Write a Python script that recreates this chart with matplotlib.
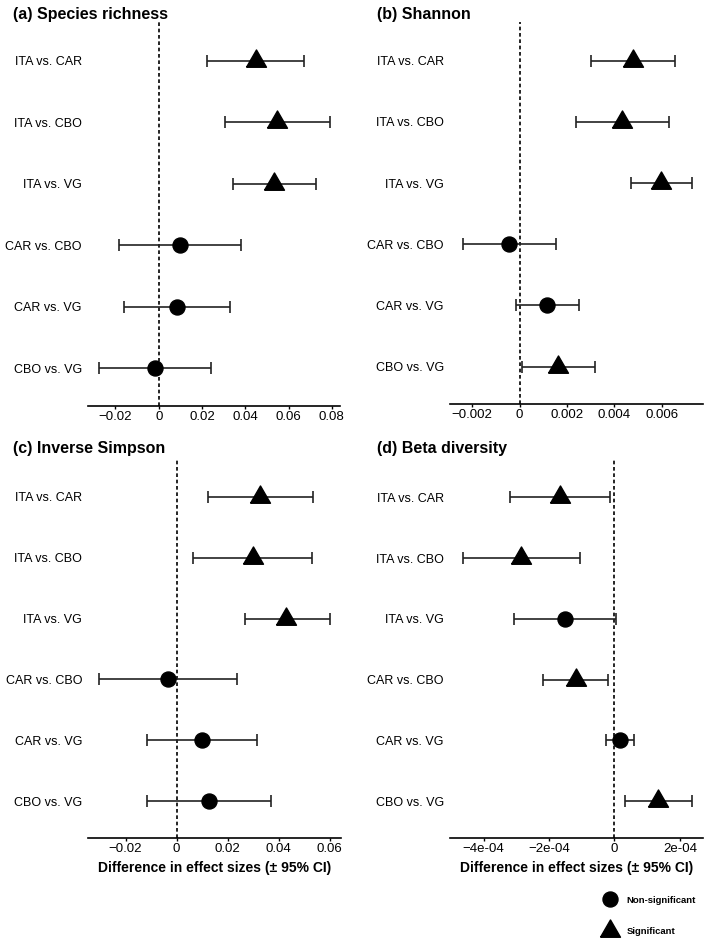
import matplotlib
matplotlib.use("Agg")
import matplotlib.pyplot as plt
from matplotlib.lines import Line2D

plt.rcParams["font.family"] = ["Liberation Sans", "DejaVu Sans"]

comparisons = ["ITA vs. CAR", "ITA vs. CBO", "ITA vs. VG",
               "CAR vs. CBO", "CAR vs. VG", "CBO vs. VG"]

richness_est = [0.0450, 0.0548, 0.0534, 0.0098, 0.0083, -0.0018]
richness_lo = [0.0224, 0.0306, 0.0342, -0.0183, -0.0159, -0.0274]
richness_hi = [0.0673, 0.0792, 0.0727, 0.0380, 0.0328, 0.0242]
richness_sig = [True, True, True, False, False, False]

shannon_est = [0.00477, 0.00434, 0.00597, -0.00046, 0.00117, 0.00163]
shannon_lo = [0.00300, 0.00239, 0.00470, -0.00239, -0.00015, 0.00008]
shannon_hi = [0.00658, 0.00631, 0.00728, 0.00153, 0.00252, 0.00318]
shannon_sig = [True, True, True, False, False, True]

invsimpson_est = [0.0329, 0.0299, 0.0430, -0.0035, 0.0098, 0.0128]
invsimpson_lo = [0.0123, 0.0065, 0.0267, -0.0305, -0.0116, -0.0114]
invsimpson_hi = [0.0536, 0.0533, 0.0600, 0.0238, 0.0314, 0.0371]
invsimpson_sig = [True, True, True, False, False, False]

beta_est = [-1.66e-4, -2.86e-4, -1.51e-4, -1.18e-4, 1.7e-5, 1.33e-4]
beta_lo = [-3.20e-4, -4.64e-4, -3.06e-4, -2.19e-4, -2.6e-5, 3.3e-5]
beta_hi = [-1.3e-5, -1.05e-4, 5e-6, -2.0e-5, 6.0e-5, 2.38e-4]
beta_sig = [True, True, False, True, False, True]

richness_ticks = [-0.02, 0, 0.02, 0.04, 0.06, 0.08]
richness_ticklabels = ["\u22120.02", "0", "0.02", "0.04", "0.06", "0.08"]
shannon_ticks = [-0.002, 0, 0.002, 0.004, 0.006]
shannon_ticklabels = ["\u22120.002", "0", "0.002", "0.004", "0.006"]
invsimpson_ticks = [-0.02, 0, 0.02, 0.04, 0.06]
invsimpson_ticklabels = ["\u22120.02", "0", "0.02", "0.04", "0.06"]
beta_ticks = [-4e-4, -2e-4, 0, 2e-4]
beta_ticklabels = ["\u22124e-04", "\u22122e-04", "0", "2e-04"]

# equilateral triangle centred on its centroid
TRI = [(-1, -0.577), (1, -0.577), (0, 1.155), (-1, -0.577)]


def draw_panel(ax, est, lo, hi, sig, ticks, ticklabels, xlim):
    ys = list(range(len(comparisons), 0, -1))
    ax.axvline(0, color="black", linestyle=(0, (2.2, 1.6)), linewidth=1.2, zorder=1)
    for y, e, l, h, s in zip(ys, est, lo, hi, sig):
        ax.errorbar(e, y, xerr=[[e - l], [h - e]], fmt="none", ecolor="#222222",
                    elinewidth=1.2, capsize=4.3, capthick=1.2, zorder=2)
        if s:
            ax.plot(e, y, marker=TRI, markersize=16.6, color="black",
                    linestyle="none", zorder=3)
        else:
            ax.plot(e, y, marker="o", markersize=10.8, color="black",
                    linestyle="none", zorder=3)
    ax.set_yticks(ys)
    ax.set_yticklabels(comparisons, fontsize=9)
    ax.set_ylim(0.39, 6.63)
    ax.set_xlim(*xlim)
    ax.set_xticks(ticks)
    ax.set_xticklabels(ticklabels, fontsize=9.5)
    for side in ["top", "right", "left"]:
        ax.spines[side].set_visible(False)
    ax.spines["bottom"].set_linewidth(1.2)
    ax.tick_params(axis="y", length=0, pad=4.5)
    ax.tick_params(axis="x", length=2, width=1, pad=1.5)


fig = plt.figure(figsize=(7.09, 9.49), dpi=100)
W, H = 709, 949


def add_axes_px(left, top, right, bottom):
    return fig.add_axes([left / W, 1 - bottom / H, (right - left) / W, (bottom - top) / H])


ax_a = add_axes_px(88, 22, 340, 406)
ax_b = add_axes_px(450, 22, 702.7, 404)
ax_c = add_axes_px(88.3, 458.5, 341, 838.3)
ax_d = add_axes_px(450, 459, 702.7, 838.3)

draw_panel(ax_a, richness_est, richness_lo, richness_hi, richness_sig,
           richness_ticks, richness_ticklabels, (-0.0327, 0.0838))
draw_panel(ax_b, shannon_est, shannon_lo, shannon_hi, shannon_sig,
           shannon_ticks, shannon_ticklabels, (-0.00294, 0.00773))
draw_panel(ax_c, invsimpson_est, invsimpson_lo, invsimpson_hi, invsimpson_sig,
           invsimpson_ticks, invsimpson_ticklabels, (-0.0346, 0.0645))
draw_panel(ax_d, beta_est, beta_lo, beta_hi, beta_sig,
           beta_ticks, beta_ticklabels, (-5.03e-4, 2.70e-4))

for ax in (ax_c, ax_d):
    ax.set_xlabel("Difference in effect sizes (\u00b1 95% CI)", fontsize=10,
                  fontweight="bold", labelpad=4.5)

titles = [("(a) Species richness", 13, 15), ("(b) Shannon", 376.7, 15),
          ("(c) Inverse Simpson", 13.3, 449), ("(d) Beta diversity", 376.7, 449)]
for text, x, y in titles:
    fig.text(x / W, 1 - y / H, text, fontsize=11.5, fontweight="bold",
             ha="left", va="center")

handles = [
    Line2D([], [], marker="o", markersize=10.8, color="black", linestyle="none"),
    Line2D([], [], marker=TRI, markersize=16.6, color="black", linestyle="none"),
]
fig.legend(handles, ["Non-significant", "Significant"], loc="center left",
           bbox_to_anchor=(599 / W, 1 - 916 / H), frameon=False,
           prop={"size": 6.8, "weight": "bold"}, handlelength=1.4,
           handletextpad=1.0, labelspacing=2.4, borderpad=0)

fig.savefig("out.png", dpi=100)
